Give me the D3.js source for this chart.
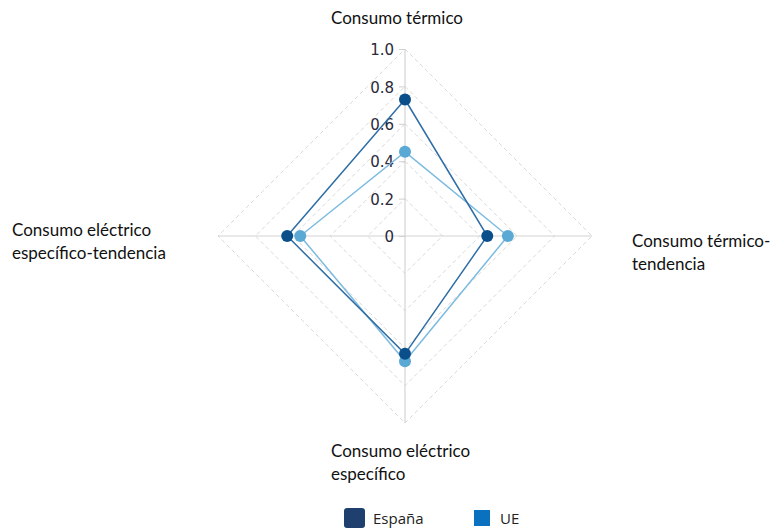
<!DOCTYPE html>
<html>
<head>
<meta charset="utf-8">
<script src="https://cdn.jsdelivr.net/npm/d3@7"></script>
<style>
  html, body { margin: 0; padding: 0; background: #fff; }
  svg { display: block; }
</style>
</head>
<body>
<svg id="chart" width="773" height="528"></svg>
<script>
// Radar axes, clockwise from the top
const axes = ["Consumo térmico", "Consumo térmico-tendencia", "Consumo eléctrico específico", "Consumo eléctrico específico-tendencia"];
const espana = [0.73, 0.44, 0.63, 0.63];
const ue = [0.45, 0.55, 0.67, 0.56];
const tickValues = [0, 0.2, 0.4, 0.6, 0.8, 1.0];
const tickLabels = ["0", "0.2", "0.4", "0.6", "0.8", "1.0"];
const seriesNames = ["España", "UE"];

const svg = d3.select("#chart");
const cx = 405, cy = 236, R = 187;

const r = d3.scaleLinear().domain([0, 1]).range([0, R]);
const angle = d3.scalePoint().domain(d3.range(axes.length)).range([0, 2 * Math.PI * (axes.length - 1) / axes.length]);
const pt = (i, v) => {
  const a = angle(i) - Math.PI / 2;
  return [cx + r(v) * Math.cos(a), cy + r(v) * Math.sin(a)];
};

const g = svg.append("g");

// dashed grid rings
tickValues.filter(t => t > 0).forEach(t => {
  g.append("path")
    .attr("d", d3.line()(d3.range(axes.length).map(i => pt(i, t))) + "Z")
    .attr("fill", "none")
    .attr("stroke", "#d9d9d9")
    .attr("stroke-width", 1)
    .attr("stroke-dasharray", "4,3");
});

// axis spokes
d3.range(axes.length).forEach(i => {
  const [x, y] = pt(i, 1);
  g.append("line")
    .attr("x1", cx).attr("y1", cy).attr("x2", x).attr("y2", y)
    .attr("stroke", "#d4d4d4").attr("stroke-width", 1.2);
});

// radial axis on the top spoke
const yAxis = d3.scaleLinear().domain([0, 1]).range([cy, cy - R]);
const axisG = g.append("g")
  .attr("transform", `translate(${cx},0)`)
  .call(d3.axisLeft(yAxis).tickValues(tickValues).tickFormat((d, i) => tickLabels[i]).tickSize(6).tickPadding(5));
axisG.select(".domain").remove();
axisG.selectAll(".tick line").attr("stroke", "#cfcfcf");
axisG.selectAll(".tick text")
  .attr("fill", "#2a2a3a")
  .attr("dy", "0.38em")
  .style("font-family", "'DejaVu Sans', Verdana, sans-serif")
  .style("font-size", "15px");

// series
const series = [
  { name: seriesNames[0], values: espana, line: "#2f6ea5", dot: "#0b4f8a" },
  { name: seriesNames[1], values: ue, line: "#7dbbe0", dot: "#5aa8d4" }
];
// UE drawn first so España sits on top
[series[1], series[0]].forEach(s => {
  const pts = s.values.map((v, i) => pt(i, v));
  g.append("path")
    .attr("d", d3.line()(pts) + "Z")
    .attr("fill", "none")
    .attr("stroke", s.line)
    .attr("stroke-width", 1.5);
  g.selectAll(null).data(pts).enter().append("circle")
    .attr("cx", d => d[0]).attr("cy", d => d[1])
    .attr("r", 6)
    .attr("fill", s.dot);
});

// axis labels
const labelFont = "Lato, 'Open Sans', sans-serif";
const labels = [
  { lines: ["Consumo térmico"], x: 331, y: 24 },
  { lines: ["Consumo térmico-", "tendencia"], x: 632, y: 247 },
  { lines: ["Consumo eléctrico", "específico"], x: 331, y: 457 },
  { lines: ["Consumo eléctrico", "específico-tendencia"], x: 12, y: 236 }
];
labels.forEach(l => {
  const t = svg.append("text")
    .attr("x", l.x).attr("y", l.y)
    .attr("fill", "#111")
    .style("font-family", labelFont)
    .style("font-size", "17px");
  l.lines.forEach((ln, k) => {
    t.append("tspan").attr("x", l.x).attr("dy", k === 0 ? 0 : 23).text(ln);
  });
});

// legend
const legend = svg.append("g");
const legendItems = [
  { name: seriesNames[0], x: 344, tx: 373, color: "#1f3f6e", w: 21, h: 20, y: 508, rx: 3 },
  { name: seriesNames[1], x: 474, tx: 500, color: "#0a70c0", w: 16, h: 16, y: 510, rx: 0 }
];
legendItems.forEach(it => {
  legend.append("rect")
    .attr("x", it.x).attr("y", it.y).attr("width", it.w).attr("height", it.h)
    .attr("rx", it.rx)
    .attr("fill", it.color);
  legend.append("text")
    .attr("x", it.tx).attr("y", 524)
    .attr("fill", "#222")
    .style("font-family", "'Open Sans', sans-serif")
    .style("font-size", "15px")
    .text(it.name);
});
</script>
</body>
</html>
